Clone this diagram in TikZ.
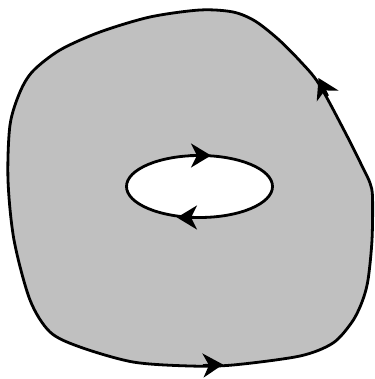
\documentclass[tikz,border=0pt]{standalone}
\usetikzlibrary{arrows.meta}
\definecolor{fillgray}{RGB}{192,192,192}
\tikzset{
  outline/.style={line width=2.8pt, draw=black},
  tip/.style={line width=2.8pt, -{Stealth[length=20pt,width=24pt,inset=6pt]}}
}
\begin{document}
\begin{tikzpicture}[x=1pt,y=-1pt]
\useasboundingbox (0,0) rectangle (374,379);
\draw[outline, fill=fillgray] plot[smooth cycle, tension=0.5] coordinates {
  (200,10) (233,12) (255,21) (278,39) (300,61) (319,84) (346,134) (363,168) (370,183) (372.5,197)
  (372,240) (368,280) (362,302) (352,322) (333,343) (300,356) (233,365) (190,366)
  (133,362) (80,347) (50,332) (30,300) (14,240) (8,180) (10,125) (20,92)
  (33,71) (60,50) (100,32) (150,17)};
\draw[outline, fill=white] (199.5,186.5) ellipse [x radius=73, y radius=31];
\coordinate (a1) at (203,365.5); \coordinate (b1) at (223,364.5);
\draw[tip] (a1) -- (b1);
\coordinate (a2) at (327.6,96); \coordinate (b2) at (318.5,78);
\draw[tip] (a2) -- (b2);
\coordinate (a3) at (190,155.5); \coordinate (b3) at (211,155.5);
\draw[tip] (a3) -- (b3);
\coordinate (a4) at (198,217.5); \coordinate (b4) at (177,217.5);
\draw[tip] (a4) -- (b4);
\end{tikzpicture}
\end{document}
